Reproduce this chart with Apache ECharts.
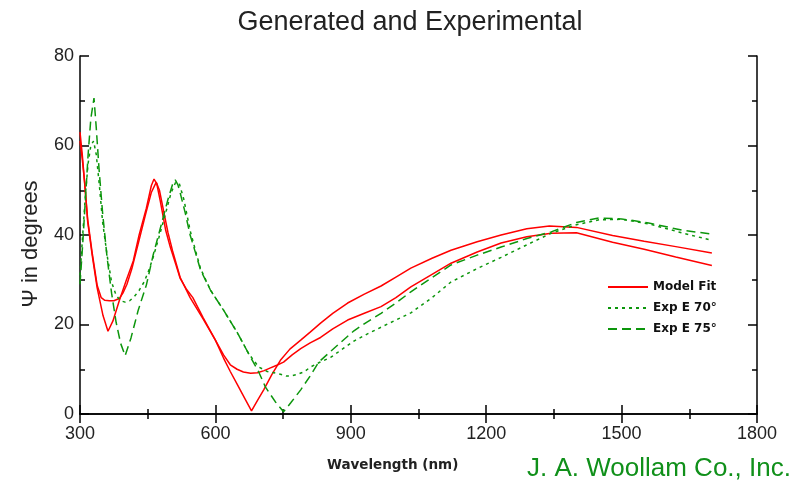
<!DOCTYPE html>
<html>
<head>
<meta charset="utf-8">
<script src="https://cdn.jsdelivr.net/npm/echarts@6/dist/echarts.min.js"></script>
<style>html,body{margin:0;padding:0;background:#fff}#c{width:807px;height:484px}</style>
</head>
<body>
<div id="c"></div>
<script>
// ---- data ----
const xTicks = [300, 600, 900, 1200, 1500, 1800];
const yTicks = [0, 20, 40, 60, 80];

const modelA_wl  = [300,305,310,317,327,338,351,362,373,387,402,418,431,447,458,464,470,478,490,500,512,522,535,550,573,600,618,633,649,665,680,693,707,725,744,765,789,810,833,860,893,930,967,1000,1033,1080,1122,1180,1233,1290,1340,1400,1480,1550,1620,1700];
const modelA_psi = [63,58,52,43,35.5,28.2,22,18.5,20.8,25.3,29.7,34.2,40,46,51,52.5,51.5,47.5,41,37.3,33.5,30.3,28,26,21.5,16.5,12.5,9.5,6.5,3.5,0.7,3,5.4,8.8,12,14.5,16.5,18.3,20.3,22.5,24.8,26.8,28.6,30.6,32.6,34.8,36.6,38.5,40,41.4,42,41.7,39.9,38.6,37.4,36];

const modelB_wl  = [300,305,310,317,327,338,347,355,365,375,387,395,404,415,430,445,458,469,476,485,495,505,522,544,573,600,618,633,648,662,678,693,708,722,736,751,770,789,810,833,860,893,930,967,1000,1033,1080,1122,1180,1233,1290,1344,1400,1480,1550,1620,1700];
const modelB_psi = [61,57,52,43.5,36,28.8,26,25.4,25.3,25.3,25.8,27,29,32.5,38.5,44.5,49.5,51.8,50,45.5,40.5,36.5,30.5,26,21.2,16.5,13.2,11,10,9.4,9.1,9.2,9.7,10.3,10.9,11.6,13.2,14.6,15.9,17.1,19,21,22.5,24,26,28.4,31.2,33.7,36.2,38.2,39.6,40.4,40.5,38.4,36.8,35.1,33.2];

const exp70_wl  = [300,306,312,318,324,330,336,343,350,360,370,380,390,400,410,420,431,442,452,462,475,490,502,512,520,530,544,556,567,589,618,649,673,696,715,730,744,757,767,780,796,811,830,856,880,907,935,967,1000,1033,1080,1122,1180,1233,1290,1344,1400,1450,1500,1560,1633,1700];
const exp70_psi = [31,40,49,56,60,61,58,51,43,35.5,29.5,26.5,25.3,25,25.3,26.2,27.6,29.5,32,35,39.5,45,49.5,51.8,51.5,48,41,36.5,32.5,27.7,23.2,18.1,13.6,10.5,9.5,9.2,8.9,8.5,8.5,8.8,9.4,10.5,11.5,12.7,14.4,16.3,17.8,19.4,21,22.6,26,29.5,32.5,35,37.8,40.4,42.3,43.4,43.5,42.5,40.5,38.8];

const exp75_wl  = [300,306,312,318,324,331,336,342,350,360,370,380,390,400,413,429,447,462,474,484,495,505,511,517,522,533,544,556,567,589,618,649,673,696,711,733,751,767,789,810,829,851,880,907,935,967,1000,1033,1080,1122,1180,1233,1290,1344,1400,1450,1500,1560,1633,1700];
const exp75_psi = [29,38,48,58,66,70.6,64,55,45,35,27,20.5,15.8,13,17,23.2,28.8,35.5,40,43.8,48,51.3,52.3,51.2,49.4,45,40,36,32.2,27.7,23.2,18.1,13.6,9.4,6,2.7,0.5,2.5,5.4,8.5,11.6,13.6,16.2,18.6,20.5,22.5,24.8,27.3,30.5,33.3,35.5,37.3,39.2,40.7,42.8,43.8,43.6,42.7,41.1,40.2];

const legendNames = ['Model Fit', 'Exp E 70\u00b0', 'Exp E 75\u00b0'];

// ---- chart ----
const RED = '#ff0000', GREEN = '#0c960c';
const zip = (a, b) => a.map((v, i) => [v, b[i]]);
const chart = echarts.init(document.getElementById('c'), null, {renderer: 'canvas'});
const FONT = 'Liberation Sans, Arial, sans-serif';
const axisCommon = {
  axisLine: {show: true, lineStyle: {color: '#000', width: 1.5}},
  axisTick: {show: true, inside: true, length: 9, lineStyle: {color: '#000', width: 1.5}},
  minorTick: {show: true, splitNumber: 2, length: 5, lineStyle: {color: '#000', width: 1.5}},
  splitLine: {show: false},
  minorSplitLine: {show: false}
};
chart.setOption({
  animation: false,
  backgroundColor: '#fff',
  title: {
    text: 'Generated and Experimental', left: 405, top: 4, textAlign: 'center',
    textStyle: {fontFamily: FONT, fontSize: 27, fontWeight: 'normal', color: '#222'}
  },
  grid: {left: 80, right: 50, top: 56, bottom: 70},
  legend: {
    orient: 'vertical', left: 602, top: 276, itemWidth: 40, itemHeight: 10, itemGap: 9,
    data: legendNames,
    itemStyle: {opacity: 0},
    textStyle: {fontFamily: 'DejaVu Sans, sans-serif', fontSize: 12, fontWeight: 'bold', color: '#111'}
  },
  xAxis: [
    Object.assign({type: 'value', min: xTicks[0], max: xTicks[xTicks.length - 1], interval: 300, position: 'bottom',
      axisLabel: {fontFamily: FONT, fontSize: 18, color: '#222', margin: 11, formatter: v => String(v)}}, axisCommon),
    Object.assign({type: 'value', min: xTicks[0], max: xTicks[xTicks.length - 1], interval: 300, position: 'top',
      axisLabel: {show: false}}, axisCommon)
  ],
  yAxis: [
    Object.assign({type: 'value', min: yTicks[0], max: yTicks[yTicks.length - 1], interval: 20, position: 'left',
      axisLabel: {fontFamily: FONT, fontSize: 18, color: '#222', margin: 6, formatter: v => String(v)}}, axisCommon),
    Object.assign({type: 'value', min: yTicks[0], max: yTicks[yTicks.length - 1], interval: 20, position: 'right',
      axisLabel: {show: false}}, axisCommon)
  ],
  series: [
    {name: legendNames[0], type: 'line', data: zip(modelA_wl, modelA_psi), showSymbol: false, symbol: 'none',
      lineStyle: {color: RED, width: 1.5}, itemStyle: {color: RED}},
    {name: legendNames[0], type: 'line', data: zip(modelB_wl, modelB_psi), showSymbol: false, symbol: 'none',
      lineStyle: {color: RED, width: 1.5}, itemStyle: {color: RED}},
    {name: legendNames[1], type: 'line', data: zip(exp70_wl, exp70_psi), showSymbol: false, symbol: 'none',
      lineStyle: {color: GREEN, width: 1.5, type: [3, 4]}, itemStyle: {color: GREEN}},
    {name: legendNames[2], type: 'line', data: zip(exp75_wl, exp75_psi), showSymbol: false, symbol: 'none',
      lineStyle: {color: GREEN, width: 1.5, type: [9, 5]}, itemStyle: {color: GREEN}}
  ],
  graphic: [
    {type: 'text', x: 31, y: 244, rotation: Math.PI / 2,
      style: {text: '\u03a8 in degrees', font: '22px Liberation Sans, Arial, sans-serif', fill: '#222', align: 'center', verticalAlign: 'middle'}},
    {type: 'text', left: 327, top: 458, style: {text: 'Wavelength (nm)', font: 'bold 13.5px DejaVu Sans, sans-serif', fill: '#222'}},
    {type: 'text', left: 527, top: 456, style: {text: 'J. A. Woollam Co., Inc.', font: '26px Liberation Sans, Arial, sans-serif', fill: '#10901a'}}
  ]
});
</script>
</body>
</html>
